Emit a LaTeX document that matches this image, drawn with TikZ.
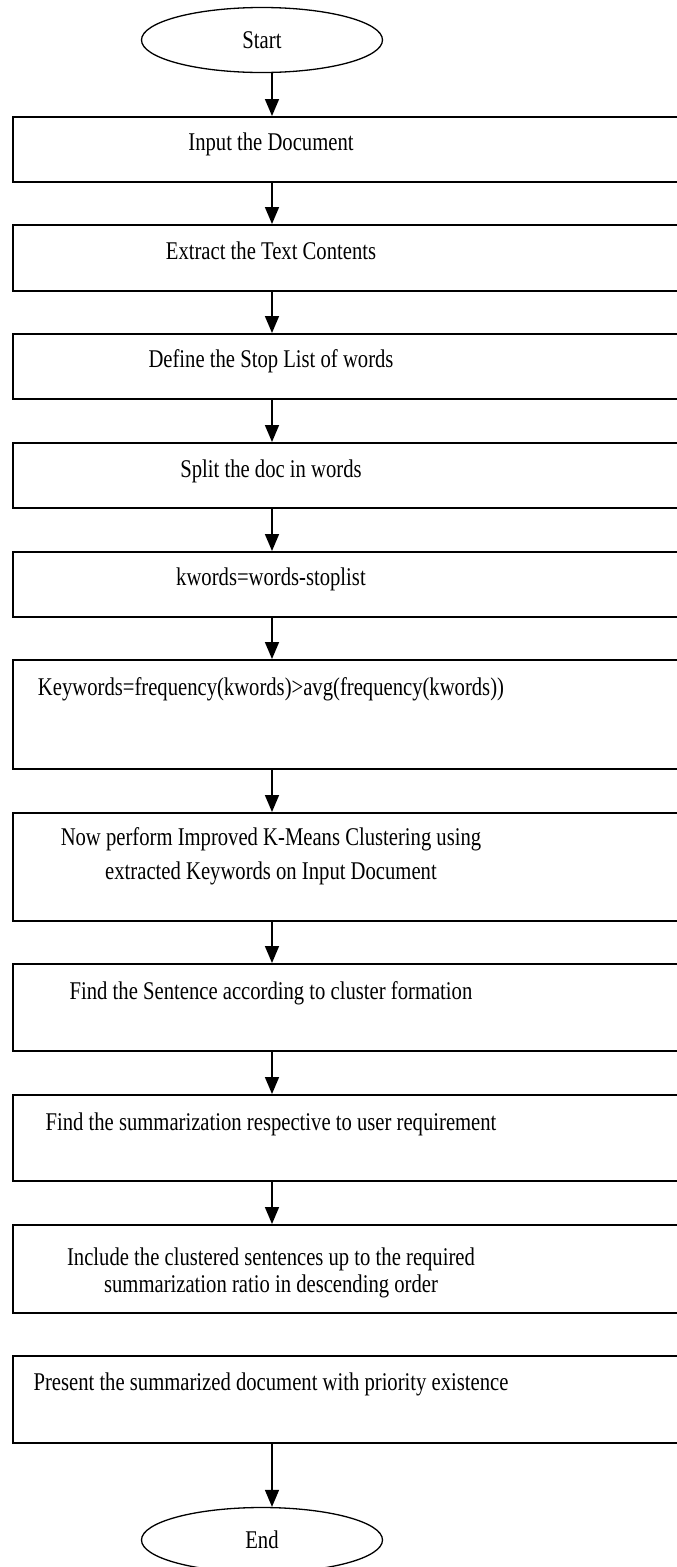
\documentclass[tikz,border=0pt]{standalone}
\usepackage{fontspec}
\setmainfont{Liberation Serif}
\newfontfamily\flowfont[FakeStretch=0.81]{Liberation Serif}
\usetikzlibrary{shapes.geometric,arrows.meta}
\begin{document}
\begin{tikzpicture}
	[
	x=1pt, y=-1pt,
	line width=1.6pt,
	align=center,
	font=\flowfont\fontsize{25.5}{30}\selectfont,
	term/.style={ellipse, draw=black, line width=1.3pt, minimum width=241pt, minimum height=65pt, inner sep=0pt},
	frame/.style={rectangle, draw=black, anchor=north west, minimum width=720pt, inner sep=0pt},
	txt/.style={inner sep=0pt},
	flow/.style={-{Triangle[width=14pt,length=17pt]}}
	]
		\useasboundingbox (0,0) rectangle (677,1567);
		\clip (0,0) rectangle (677,1567);
		\coordinate (ax) at (272, 0);
		
		% terminals
		\node (st) [term] at (262, 40) {Start};
		\node (en) [term] at (262, 1540) {End};
		
		% frames
		\node (b1) [frame, minimum height=65pt] at (12, 116) {};
		\node (b2) [frame, minimum height=66pt] at (12, 224) {};
		\node (b3) [frame, minimum height=65pt] at (12, 333) {};
		\node (b4) [frame, minimum height=65pt] at (12, 442) {};
		\node (b5) [frame, minimum height=65pt] at (12, 551) {};
		\node (b6) [frame, minimum height=109pt] at (12, 659) {};
		\node (b7) [frame, minimum height=108pt] at (12, 812) {};
		\node (b8) [frame, minimum height=87pt] at (12, 963) {};
		\node (b9) [frame, minimum height=86pt] at (12, 1094) {};
		\node (b10) [frame, minimum height=88pt] at (12, 1224) {};
		\node (b11) [frame, minimum height=87pt] at (12, 1355) {};
		
		% texts
		\node (l1) [txt] at (271, 144) {Input the Document};
		\node (l2) [txt] at (271, 251) {Extract the Text Contents};
		\node (l3) [txt] at (271, 361) {Define the Stop List of words};
		\node (l4) [txt] at (271, 471) {Split the doc in words};
		\node (l5) [txt] at (271, 579) {kwords=words-stoplist};
		\node (l6) [txt] at (271, 689) {Keywords=frequency(kwords)>avg(frequency(kwords))};
		\node (l7) [txt, font=\flowfont\fontsize{25.5}{34}\selectfont] at (271, 856) {Now perform Improved K-Means Clustering using\\extracted Keywords on Input Document};
		\node (l8) [txt] at (271, 993) {Find the Sentence according to cluster formation};
		\node (l9) [txt] at (271, 1124) {Find the summarization respective to user requirement};
		\node (l10) [txt, font=\flowfont\fontsize{25.5}{27}\selectfont] at (271, 1273) {Include the clustered sentences up to the required\\summarization ratio in descending order};
		\node (l11) [txt] at (271, 1384) {Present the summarized document with priority existence};
		
		% drawing code
		\foreach \from/\to in {st/b1,b1/b2,b2/b3,b3/b4,b4/b5,b5/b6,b6/b7,b7/b8,b8/b9,b9/b10,b11/en}
			\draw [flow] (\from.south -| ax) -- (\to.north -| ax);
	\end{tikzpicture}
\end{document}
